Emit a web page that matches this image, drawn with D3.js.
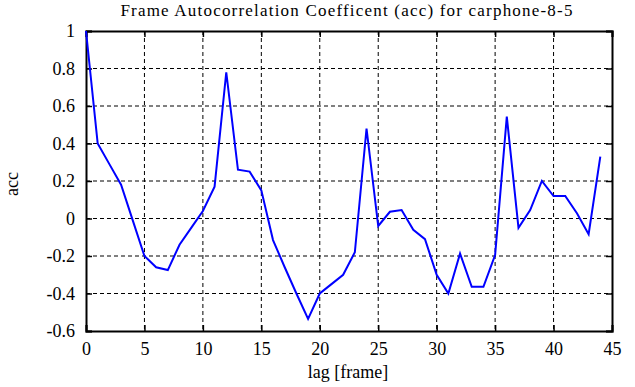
<!DOCTYPE html>
<html>
<head>
<meta charset="utf-8">
<script src="https://cdn.jsdelivr.net/npm/d3@7"></script>
<style>
  body { margin: 0; background: #fff; }
  svg text { font-family: "Liberation Serif", "DejaVu Serif", serif; fill: #000; }
</style>
</head>
<body>
<div id="chart"></div>
<script>
// data
var lags = d3.range(0, 45);
var acc = [1.0, 0.40, 0.29, 0.18, -0.01, -0.20, -0.26, -0.275, -0.14, -0.05,
  0.04, 0.17, 0.78, 0.26, 0.25, 0.15, -0.115, -0.26, -0.40, -0.535,
  -0.40, -0.35, -0.30, -0.18, 0.48, -0.04, 0.036, 0.045, -0.06, -0.11,
  -0.30, -0.40, -0.187, -0.364, -0.364, -0.195, 0.543, -0.05, 0.045, 0.20,
  0.12, 0.12, 0.028, -0.084, 0.33];
var xTicks = [0, 5, 10, 15, 20, 25, 30, 35, 40, 45];
var yTicks = [-0.6, -0.4, -0.2, 0, 0.2, 0.4, 0.6, 0.8, 1];

var svgWidth = 635;
var svgHeight = 387;

var margin = { top: 31, right: 23, bottom: 56, left: 86 };
var width = svgWidth - margin.left - margin.right;
var height = svgHeight - margin.top - margin.bottom;

var svg = d3.select("#chart")
  .append("svg")
  .attr("width", svgWidth)
  .attr("height", svgHeight);

var chartGroup = svg.append("g")
  .attr("transform", `translate(${margin.left}, ${margin.top})`);

var xScale = d3.scaleLinear().domain([0, 45]).range([0, width]);
var yScale = d3.scaleLinear().domain([-0.6, 1]).range([height, 0]);

// grid lines
chartGroup.selectAll(".vgrid")
  .data(xTicks.slice(1, -1))
  .enter()
  .append("line")
  .attr("x1", d => xScale(d)).attr("x2", d => xScale(d))
  .attr("y1", 0).attr("y2", height)
  .attr("stroke", "#000")
  .attr("stroke-width", 1)
  .attr("stroke-dasharray", "4,3");

chartGroup.selectAll(".hgrid")
  .data(yTicks.slice(1, -1))
  .enter()
  .append("line")
  .attr("x1", 0).attr("x2", width)
  .attr("y1", d => yScale(d)).attr("y2", d => yScale(d))
  .attr("stroke", "#000")
  .attr("stroke-width", 1)
  .attr("stroke-dasharray", "4,3");

// axes with inward ticks
var fmt = d => (d === 0 ? "0" : String(+d.toFixed(1)));

var bottomAxis = d3.axisBottom(xScale).tickValues(xTicks).tickSize(-6).tickPadding(11).tickFormat(d3.format("d"));
var leftAxis = d3.axisLeft(yScale).tickValues(yTicks).tickSize(-6).tickPadding(11).tickFormat(fmt);
var topAxis = d3.axisTop(xScale).tickValues(xTicks).tickSize(-6).tickFormat("");
var rightAxis = d3.axisRight(yScale).tickValues(yTicks).tickSize(-6).tickFormat("");

chartGroup.append("g").attr("class", "axis").attr("transform", `translate(0, ${height})`).call(bottomAxis);
chartGroup.append("g").attr("class", "axis").call(leftAxis);
chartGroup.append("g").attr("class", "axis").call(topAxis);
chartGroup.append("g").attr("class", "axis").attr("transform", `translate(${width}, 0)`).call(rightAxis);

chartGroup.selectAll(".axis")
  .attr("font-family", "Liberation Serif, serif")
  .attr("font-size", 18);
chartGroup.selectAll(".axis path").attr("stroke", "#000").attr("stroke-width", 2);
chartGroup.selectAll(".axis line").attr("stroke", "#000").attr("stroke-width", 1.5);
chartGroup.selectAll(".axis text").attr("fill", "#000");

// the acc line
var line = d3.line()
  .x((d, i) => xScale(lags[i]))
  .y(d => yScale(d));

chartGroup.append("path")
  .datum(acc)
  .attr("d", line)
  .attr("fill", "none")
  .attr("stroke", "#0000ff")
  .attr("stroke-width", 2)
  .attr("stroke-linejoin", "miter");

// labels
svg.append("text")
  .attr("x", 347)
  .attr("y", 16)
  .attr("text-anchor", "middle")
  .style("font-size", "17px")
  .style("letter-spacing", "1.2px")
  .text("Frame Autocorrelation Coefficent (acc) for carphone-8-5");

svg.append("text")
  .attr("x", 348)
  .attr("y", 378)
  .attr("text-anchor", "middle")
  .style("font-size", "18px")
  .text("lag [frame]");

svg.append("text")
  .attr("transform", "translate(18, 184) rotate(-90)")
  .attr("text-anchor", "middle")
  .style("font-size", "18px")
  .text("acc");
</script>
</body>
</html>
